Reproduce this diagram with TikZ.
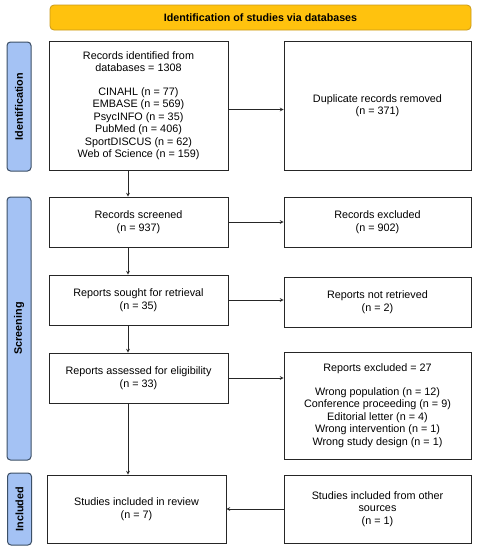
\documentclass[tikz,border=0pt]{standalone}
\usepackage{fontspec}
\setmainfont{Liberation Sans}
\usetikzlibrary{positioning}

\definecolor{headfill}{HTML}{FFC20E}
\definecolor{headline}{HTML}{C99A1A}
\definecolor{barfill}{HTML}{A4C2F4}
\definecolor{barline}{HTML}{3C4F66}

\tikzset{
  flowbox/.style={draw=black!85, line width=0.8pt, align=center, inner sep=2pt,
    font=\fontsize{10.8}{12.5}\selectfont},
  leftbox/.style={flowbox, minimum width=179pt},
  rightbox/.style={flowbox, minimum width=187pt},
  sidebar/.style={draw=barline, fill=barfill, line width=1pt, rounded corners=3.5pt,
    rotate=90, minimum height=24pt, inner sep=0pt, font=\bfseries\fontsize{10.8}{12}\selectfont},
}

\begin{document}
\begin{tikzpicture}[x=1pt,y=-1pt]
\useasboundingbox (0,0) rectangle (478,550);

% header
\node[draw=headline, fill=headfill, line width=0.8pt, rounded corners=4pt,
  minimum width=421pt, minimum height=25pt, font=\bfseries\fontsize{10.7}{12}\selectfont]
  (head) at (260.5,17.5) {Identification of studies via databases};

% phase bars
\node[sidebar, minimum width=129pt] (idbar) at (19,106.5) {Identification};
\node[sidebar, minimum width=263pt] (scbar) at (19,328.5) {Screening};
\node[sidebar, minimum width=72pt] (inbar) at (19.5,509) {Included};

% left column
\node[leftbox, minimum height=129pt] (ident) at (138.5,105.5)
  {Records identified from\\ databases = 1308\\[11pt]
   CINAHL (n = 77)\\ EMBASE (n = 569)\\ PsycINFO (n = 35)\\ PubMed (n = 406)\\
   SportDISCUS (n = 62)\\ Web of Science (n = 159)};
\node[leftbox, minimum height=50pt] (screen) at (138.5,222) {Records screened\\ (n = 937)};
\node[leftbox, minimum height=50pt] (sought) at (138.5,300) {Reports sought for retrieval\\ (n = 35)};
\node[leftbox, minimum height=50pt] (assess) at (138.5,378) {Reports assessed for eligibility\\ (n = 33)};
\node[leftbox, minimum height=68pt] (incl) at (136.5,509) {Studies included in review\\ (n = 7)};

% right column
\node[rightbox, minimum height=129pt] (dupl) at (377.5,105.5) {Duplicate records removed\\ (n = 371)};
\node[rightbox, minimum height=50pt] (rexcl) at (377.5,222) {Records excluded\\ (n = 902)};
\node[rightbox, minimum height=50pt] (notret) at (377.5,302) {Reports not retrieved\\ (n = 2)};
\node[rightbox, minimum height=107pt] (pexcl) at (377.5,405.5)
  {Reports excluded = 27\\[11pt]
   Wrong population (n = 12)\\ Conference proceeding (n = 9)\\ Editorial letter (n = 4)\\
   Wrong intervention (n = 1)\\ Wrong study design (n = 1)};
\node[rightbox, minimum height=68pt] (other) at (377.5,509)
  {Studies included from other\\ sources\\ (n = 1)};

\path[-stealth, line width=0.7pt, every edge/.style={draw=black!85}]
  ([xshift=-10.5pt]ident.south) edge ([xshift=-10.5pt]screen.north)
  ([xshift=-10.5pt]screen.south) edge ([xshift=-10.5pt]sought.north)
  ([xshift=-10.5pt]sought.south) edge ([xshift=-10.5pt]assess.north)
  ([xshift=-10.5pt]assess.south) edge ([xshift=-8.5pt]incl.north)
  ([yshift=-4pt]ident.east) edge ([yshift=-4pt]ident.east -| dupl.west)
  (screen.east) edge (screen.east -| rexcl.west)
  (sought.east) edge (sought.east -| notret.west)
  (assess.east) edge (assess.east -| pexcl.west)
  (other.west) edge (other.west -| incl.east)
  ;
\end{tikzpicture}
\end{document}
